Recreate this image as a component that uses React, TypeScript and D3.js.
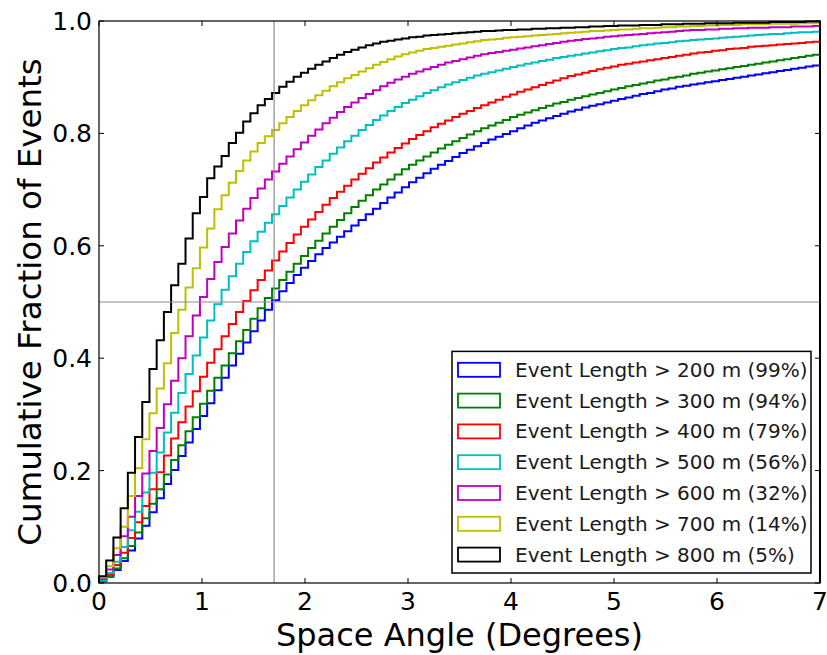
import React from "react";
import * as d3 from "d3";

// ---- Data (cumulative fraction per 0.07° bin, 0–7°) ----
const ANGLE_MAX = 7;
const BIN_COUNT = 100;

const len200 = [
  0.003, 0.011, 0.023, 0.039, 0.058, 0.079, 0.102, 0.126, 0.151, 0.176,
  0.201, 0.226, 0.250, 0.274, 0.297, 0.320, 0.343, 0.365, 0.387, 0.408,
  0.428, 0.448, 0.467, 0.486, 0.503, 0.519, 0.534, 0.548, 0.561, 0.573,
  0.585, 0.596, 0.606, 0.616, 0.626, 0.636, 0.646, 0.656, 0.666, 0.676,
  0.686, 0.695, 0.704, 0.713, 0.721, 0.729, 0.737, 0.744, 0.751, 0.758,
  0.765, 0.771, 0.777, 0.783, 0.789, 0.794, 0.799, 0.804, 0.809, 0.814,
  0.819, 0.823, 0.827, 0.831, 0.835, 0.839, 0.842, 0.846, 0.849, 0.852,
  0.855, 0.858, 0.861, 0.864, 0.867, 0.870, 0.872, 0.875, 0.878, 0.880,
  0.883, 0.885, 0.887, 0.889, 0.891, 0.893, 0.895, 0.897, 0.899, 0.901,
  0.903, 0.905, 0.907, 0.909, 0.911, 0.913, 0.915, 0.917, 0.919, 0.921,
];
const len300 = [
  0.003, 0.012, 0.026, 0.044, 0.066, 0.090, 0.115, 0.141, 0.167, 0.193,
  0.219, 0.245, 0.270, 0.295, 0.319, 0.342, 0.365, 0.387, 0.409, 0.430,
  0.450, 0.470, 0.489, 0.507, 0.524, 0.539, 0.554, 0.568, 0.582, 0.596,
  0.609, 0.622, 0.634, 0.646, 0.658, 0.669, 0.680, 0.690, 0.700, 0.709,
  0.718, 0.727, 0.736, 0.744, 0.752, 0.759, 0.766, 0.773, 0.780, 0.786,
  0.792, 0.798, 0.804, 0.809, 0.814, 0.819, 0.824, 0.829, 0.833, 0.837,
  0.841, 0.845, 0.849, 0.853, 0.856, 0.860, 0.863, 0.866, 0.869, 0.872,
  0.875, 0.878, 0.881, 0.884, 0.886, 0.889, 0.891, 0.894, 0.896, 0.899,
  0.901, 0.903, 0.906, 0.908, 0.910, 0.912, 0.914, 0.916, 0.918, 0.920,
  0.922, 0.924, 0.926, 0.928, 0.930, 0.932, 0.934, 0.936, 0.938, 0.940,
];
const len400 = [
  0.004, 0.015, 0.032, 0.054, 0.080, 0.108, 0.137, 0.167, 0.197, 0.227,
  0.257, 0.286, 0.314, 0.341, 0.367, 0.392, 0.416, 0.439, 0.461, 0.482,
  0.502, 0.521, 0.539, 0.556, 0.574, 0.590, 0.605, 0.620, 0.634, 0.647,
  0.660, 0.673, 0.685, 0.696, 0.707, 0.718, 0.728, 0.738, 0.748, 0.757,
  0.766, 0.774, 0.782, 0.790, 0.797, 0.804, 0.811, 0.817, 0.823, 0.829,
  0.835, 0.840, 0.845, 0.850, 0.855, 0.860, 0.865, 0.869, 0.874, 0.878,
  0.882, 0.886, 0.890, 0.894, 0.898, 0.902, 0.905, 0.908, 0.911, 0.914,
  0.917, 0.919, 0.922, 0.924, 0.926, 0.928, 0.930, 0.932, 0.934, 0.936,
  0.938, 0.940, 0.942, 0.944, 0.945, 0.947, 0.948, 0.950, 0.951, 0.952,
  0.954, 0.955, 0.956, 0.957, 0.958, 0.959, 0.960, 0.961, 0.962, 0.963,
];
const len500 = [
  0.005, 0.018, 0.038, 0.064, 0.094, 0.127, 0.161, 0.196, 0.232, 0.268,
  0.303, 0.338, 0.372, 0.405, 0.437, 0.467, 0.496, 0.522, 0.546, 0.568,
  0.589, 0.608, 0.625, 0.641, 0.656, 0.671, 0.686, 0.700, 0.714, 0.727,
  0.740, 0.752, 0.764, 0.775, 0.786, 0.796, 0.806, 0.815, 0.824, 0.832,
  0.840, 0.847, 0.854, 0.860, 0.866, 0.872, 0.877, 0.882, 0.887, 0.891,
  0.895, 0.899, 0.903, 0.906, 0.909, 0.912, 0.915, 0.918, 0.921, 0.924,
  0.926, 0.929, 0.931, 0.934, 0.936, 0.938, 0.940, 0.942, 0.944, 0.946,
  0.948, 0.950, 0.952, 0.953, 0.955, 0.957, 0.958, 0.960, 0.961, 0.962,
  0.964, 0.965, 0.966, 0.967, 0.968, 0.969, 0.970, 0.971, 0.972, 0.973,
  0.974, 0.975, 0.976, 0.977, 0.977, 0.978, 0.979, 0.980, 0.980, 0.981,
];
const len600 = [
  0.007, 0.024, 0.050, 0.083, 0.118, 0.155, 0.195, 0.235, 0.276, 0.318,
  0.360, 0.400, 0.439, 0.476, 0.509, 0.541, 0.571, 0.598, 0.622, 0.645,
  0.666, 0.685, 0.702, 0.718, 0.732, 0.746, 0.759, 0.772, 0.784, 0.796,
  0.807, 0.818, 0.828, 0.838, 0.847, 0.855, 0.863, 0.870, 0.877, 0.884,
  0.890, 0.896, 0.901, 0.906, 0.910, 0.914, 0.918, 0.922, 0.926, 0.929,
  0.932, 0.935, 0.938, 0.941, 0.943, 0.945, 0.947, 0.949, 0.951, 0.953,
  0.955, 0.957, 0.959, 0.961, 0.963, 0.965, 0.966, 0.968, 0.969, 0.970,
  0.972, 0.973, 0.974, 0.975, 0.976, 0.977, 0.978, 0.979, 0.980, 0.981,
  0.982, 0.983, 0.984, 0.984, 0.985, 0.985, 0.986, 0.986, 0.987, 0.987,
  0.988, 0.988, 0.988, 0.989, 0.989, 0.989, 0.990, 0.990, 0.990, 0.991,
];
const len700 = [
  0.010, 0.030, 0.062, 0.100, 0.155, 0.204, 0.256, 0.302, 0.346, 0.391,
  0.445, 0.486, 0.526, 0.560, 0.597, 0.631, 0.665, 0.690, 0.712, 0.733,
  0.752, 0.768, 0.783, 0.795, 0.806, 0.818, 0.829, 0.840, 0.850, 0.859,
  0.868, 0.876, 0.884, 0.891, 0.898, 0.904, 0.910, 0.916, 0.922, 0.927,
  0.932, 0.937, 0.941, 0.944, 0.947, 0.950, 0.952, 0.954, 0.956, 0.958,
  0.960, 0.962, 0.964, 0.966, 0.967, 0.968, 0.970, 0.971, 0.972, 0.973,
  0.974, 0.975, 0.976, 0.977, 0.978, 0.979, 0.980, 0.981, 0.982, 0.982,
  0.983, 0.984, 0.985, 0.985, 0.986, 0.987, 0.987, 0.988, 0.989, 0.989,
  0.990, 0.990, 0.991, 0.991, 0.992, 0.992, 0.993, 0.993, 0.993, 0.994,
  0.994, 0.994, 0.994, 0.995, 0.995, 0.995, 0.995, 0.996, 0.996, 0.996,
];
const len800 = [
  0.012, 0.040, 0.081, 0.133, 0.196, 0.260, 0.322, 0.381, 0.432, 0.482,
  0.530, 0.568, 0.613, 0.658, 0.687, 0.720, 0.741, 0.760, 0.783, 0.801,
  0.821, 0.836, 0.850, 0.861, 0.872, 0.883, 0.892, 0.901, 0.908, 0.915,
  0.922, 0.928, 0.934, 0.940, 0.945, 0.949, 0.953, 0.957, 0.960, 0.963,
  0.965, 0.967, 0.969, 0.971, 0.972, 0.974, 0.975, 0.976, 0.977, 0.978,
  0.979, 0.980, 0.981, 0.982, 0.982, 0.983, 0.984, 0.984, 0.985, 0.985,
  0.986, 0.986, 0.987, 0.987, 0.988, 0.988, 0.989, 0.989, 0.990, 0.990,
  0.991, 0.991, 0.992, 0.992, 0.992, 0.993, 0.993, 0.993, 0.994, 0.994,
  0.994, 0.995, 0.995, 0.995, 0.996, 0.996, 0.996, 0.996, 0.997, 0.997,
  0.997, 0.997, 0.997, 0.998, 0.998, 0.998, 0.998, 0.998, 0.999, 0.999,
];

const seriesLabels = [
  "Event Length > 200 m (99%)",
  "Event Length > 300 m (94%)",
  "Event Length > 400 m (79%)",
  "Event Length > 500 m (56%)",
  "Event Length > 600 m (32%)",
  "Event Length > 700 m (14%)",
  "Event Length > 800 m (5%)",
];
const seriesValues = [len200, len300, len400, len500, len600, len700, len800];
const seriesColors = ["#0000ff", "#008000", "#ff0000", "#00bfbf", "#bf00bf", "#bfbf00", "#000000"];

const xTicks = [0, 1, 2, 3, 4, 5, 6, 7];
const yTicks = [0, 0.2, 0.4, 0.6, 0.8, 1.0];
const refAngle = 1.7;
const refFraction = 0.5;

const W = 827;
const H = 655;
const M = { left: 99, right: 7, top: 21, bottom: 72 };
const FONT = "'DejaVu Sans', 'Bitstream Vera Sans', sans-serif";

export default function App() {
  const x = d3.scaleLinear().domain([0, ANGLE_MAX]).range([M.left, W - M.right]);
  const y = d3.scaleLinear().domain([0, 1]).range([H - M.bottom, M.top]);
  const binW = ANGLE_MAX / BIN_COUNT;

  const line = d3
    .line<[number, number]>()
    .x((d) => x(d[0]))
    .y((d) => y(d[1]))
    .curve(d3.curveStepAfter);

  const paths = seriesValues.map((vals) => {
    const pts: [number, number][] = [[0, 0]];
    vals.forEach((v, k) => pts.push([k * binW, v]));
    pts.push([ANGLE_MAX, vals[vals.length - 1]]);
    pts.push([ANGLE_MAX, 0]);
    return line(pts) || "";
  });

  const x0 = x(0), x1 = x(ANGLE_MAX), y0 = y(0), y1 = y(1);
  const tickLen = 5;

  // legend
  const legRight = x1 - 9;
  const legBottom = y0 - 10;
  const legW = 359;
  const rowH = 30.8;
  const legH = rowH * seriesLabels.length + 6;
  const legX = legRight - legW;
  const legY = legBottom - legH;

  return (
    <div style={{ position: "absolute", left: 0, top: 0 }}>
      <svg width={W} height={H} style={{ display: "block", background: "#fff" }} fontFamily={FONT}>
        <rect x={0} y={0} width={W} height={H} fill="#fff" />
        {/* curves */}
        <g fill="none" strokeWidth={2} strokeLinejoin="miter">
          {paths.map((d, i) => (
            <path key={i} d={d} stroke={seriesColors[i]} />
          ))}
        </g>
        {/* reference lines */}
        <line x1={x(refAngle)} x2={x(refAngle)} y1={y1} y2={y0} stroke="#8c8c8c" strokeWidth={1.2} />
        <line x1={x0} x2={x1} y1={y(refFraction)} y2={y(refFraction)} stroke="#8c8c8c" strokeWidth={1.2} />
        {/* frame */}
        <rect x={x0} y={y1} width={x1 - x0} height={y0 - y1} fill="none" stroke="#000" strokeWidth={1.2} />
        {/* ticks */}
        {xTicks.map((t) => (
          <g key={"xt" + t}>
            <line x1={x(t)} x2={x(t)} y1={y0} y2={y0 - tickLen} stroke="#000" />
            <line x1={x(t)} x2={x(t)} y1={y1} y2={y1 + tickLen} stroke="#000" />
            <text x={x(t)} y={y0 + 27} fontSize={25} textAnchor="middle" fill="#000">
              {t}
            </text>
          </g>
        ))}
        {yTicks.map((t) => (
          <g key={"yt" + t}>
            <line x1={x0} x2={x0 + tickLen} y1={y(t)} y2={y(t)} stroke="#000" />
            <line x1={x1} x2={x1 - tickLen} y1={y(t)} y2={y(t)} stroke="#000" />
            <text x={x0 - 7} y={y(t) + 9} fontSize={25} textAnchor="end" fill="#000">
              {t.toFixed(1)}
            </text>
          </g>
        ))}
        {/* axis labels */}
        <text x={(x0 + x1) / 2} y={H - 9} fontSize={32} textAnchor="middle" fill="#000">
          Space Angle (Degrees)
        </text>
        <text
          transform={`translate(${41}, ${(y0 + y1) / 2}) rotate(-90)`}
          fontSize={32.5}
          textAnchor="middle"
          fill="#000"
        >
          Cumulative Fraction of Events
        </text>
        {/* legend */}
        <rect x={legX} y={legY} width={legW} height={legH} fill="#fff" stroke="#000" strokeWidth={1.5} />
        {seriesLabels.map((lab, i) => {
          const cy = legY + 3 + rowH * (i + 0.5);
          return (
            <g key={lab}>
              <rect x={legX + 6} y={cy - 7} width={42} height={14} fill="none" stroke={seriesColors[i]} strokeWidth={1.8} />
              <text x={legX + 63} y={cy + 7} fontSize={20} fill="#1a1a1a">
                {lab}
              </text>
            </g>
          );
        })}
      </svg>
    </div>
  );
}
